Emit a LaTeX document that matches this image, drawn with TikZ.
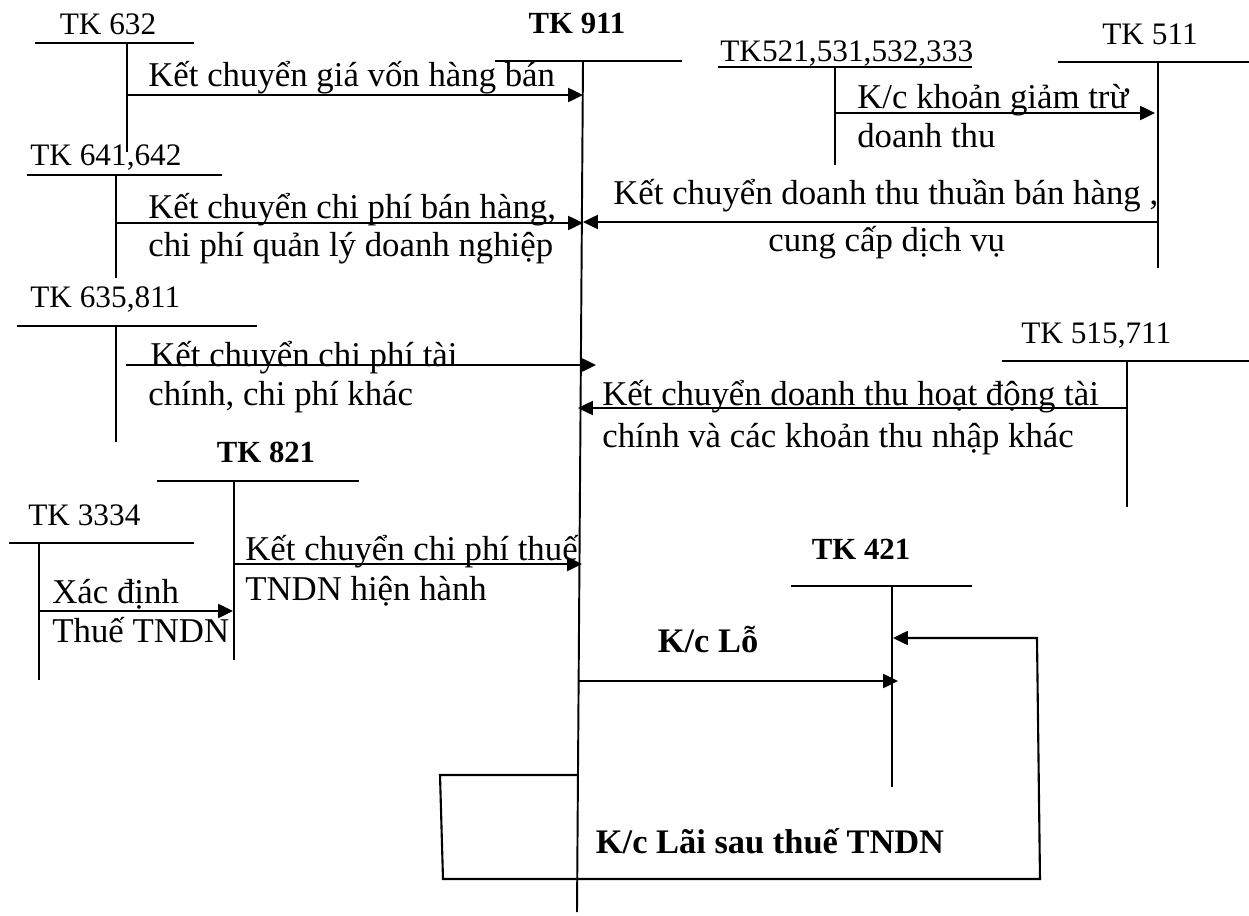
\documentclass[tikz,border=0pt]{standalone}
\usepackage{fontspec}
\setmainfont{Liberation Serif}
\usetikzlibrary{arrows.meta}
\begin{document}
\begin{tikzpicture}[x=0.02cm,y=-0.02cm,
  tline/.style={line width=1.1pt},
  arr/.style={line width=1.2pt,-{Triangle[length=8.5pt,width=8pt]}},
  tk/.style={inner sep=0pt,font=\fontsize{17.8}{20}\selectfont},
  tkb/.style={inner sep=0pt,font=\fontsize{17.5}{20}\selectfont\bfseries},
  body/.style={inner sep=0pt,anchor=base west,font=\fontsize{19.8}{24}\selectfont},
  bigb/.style={inner sep=0pt,anchor=base,font=\fontsize{19.6}{24}\selectfont\bfseries}]
\useasboundingbox (0,0) rectangle (1249,916);
% TK 911
\coordinate (h911l) at (495,61); \coordinate (h911r) at (682,61);
\coordinate (v911t) at (583,61); \coordinate (v911b) at (577,912);
\draw[tline] (h911l) -- (h911r);
\draw[tline] (v911t) -- (v911b);
\node[tkb,anchor=base] (l911) at (577,33) {TK 911};
% TK 632
\coordinate (h632l) at (35,43); \coordinate (h632r) at (194,43);
\coordinate (v632t) at (127,43); \coordinate (v632b) at (127,152);
\draw[tline] (h632l) -- (h632r); \draw[tline] (v632t) -- (v632b);
\node[tk,anchor=base] (l632) at (108,34) {TK 632};
\coordinate (s1) at (127,95); \coordinate (e1) at (583,95);
\draw[arr] (s1) -- (e1);
\node[body] (t1) at (148,86) {Kết chuyển giá vốn hàng bán};
% TK 641,642
\coordinate (h641l) at (27,175); \coordinate (h641r) at (222,175);
\coordinate (v641t) at (116,175); \coordinate (v641b) at (116,278);
\draw[tline] (h641l) -- (h641r); \draw[tline] (v641t) -- (v641b);
\node[tk,anchor=base west] (l641) at (30,165) {TK 641,642};
\coordinate (s2) at (116,223); \coordinate (e2) at (583,223);
\draw[arr] (s2) -- (e2);
\node[body] (t2a) at (148,218) {Kết chuyển chi phí bán hàng,};
\node[body] (t2b) at (148,256) {chi phí quản lý doanh nghiệp};
% TK 511
\coordinate (h511l) at (1058,62); \coordinate (h511r) at (1249,62);
\coordinate (v511t) at (1158,62); \coordinate (v511b) at (1158,268);
\draw[tline] (h511l) -- (h511r); \draw[tline] (v511t) -- (v511b);
\node[tk,anchor=base] (l511) at (1150,45) {TK 511};
\coordinate (s3) at (1158,222); \coordinate (e3) at (583,222);
\draw[arr] (s3) -- (e3);
\node[body] (t3a) at (613,204) {Kết chuyển doanh thu thuần bán hàng ,};
\node[body] (t3b) at (768,251) {cung cấp dịch vụ};
% TK 521...
\coordinate (h521l) at (718,67); \coordinate (h521r) at (972,67);
\coordinate (v521t) at (835,67); \coordinate (v521b) at (835,165);
\draw[tline] (h521l) -- (h521r); \draw[tline] (v521t) -- (v521b);
\node[tk,anchor=base west] (l521) at (720,61) {TK521,531,532,333};
\coordinate (s4) at (835,113); \coordinate (e4) at (1155,113);
\draw[arr] (s4) -- (e4);
\node[body] (t4a) at (857,108) {K/c khoản giảm trừ};
\node[body] (t4b) at (857,147) {doanh thu};
% TK 635,811
\coordinate (h635l) at (17,326); \coordinate (h635r) at (257,326);
\coordinate (v635t) at (116,326); \coordinate (v635b) at (116,442);
\draw[tline] (h635l) -- (h635r); \draw[tline] (v635t) -- (v635b);
\node[tk,anchor=base west] (l635) at (30,307) {TK 635,811};
\coordinate (s5) at (126,365); \coordinate (e5) at (596,365);
\draw[arr] (s5) -- (e5);
\node[body] (t5a) at (150,366) {Kết chuyển chi phí tài};
\node[body] (t5b) at (148,405) {chính, chi phí khác};
% TK 515,711
\coordinate (h515l) at (1002,361); \coordinate (h515r) at (1249,361);
\coordinate (v515t) at (1127,361); \coordinate (v515b) at (1127,507);
\draw[tline] (h515l) -- (h515r); \draw[tline] (v515t) -- (v515b);
\node[tk,anchor=base west] (l515) at (1021,343) {TK 515,711};
\coordinate (s6) at (1127,408); \coordinate (e6) at (578,408);
\draw[arr] (s6) -- (e6);
\node[body] (t6a) at (602,405) {Kết chuyển doanh thu hoạt động tài};
\node[body] (t6b) at (602,447) {chính và các khoản thu nhập khác};
% TK 821
\coordinate (h821l) at (157,481); \coordinate (h821r) at (359,481);
\coordinate (v821t) at (234,481); \coordinate (v821b) at (234,660);
\draw[tline] (h821l) -- (h821r); \draw[tline] (v821t) -- (v821b);
\node[tkb,anchor=base] (l821) at (266,462) {TK 821};
\coordinate (s7) at (234,564); \coordinate (e7) at (582,564);
\draw[arr] (s7) -- (e7);
\node[body] (t7a) at (245,560) {Kết chuyển chi phí thuế};
\node[body] (t7b) at (245,600) {TNDN hiện hành};
% TK 3334
\coordinate (h3334l) at (9,543); \coordinate (h3334r) at (194,543);
\coordinate (v3334t) at (39,543); \coordinate (v3334b) at (39,680);
\draw[tline] (h3334l) -- (h3334r); \draw[tline] (v3334t) -- (v3334b);
\node[tk,anchor=base west] (l3334) at (28,525) {TK 3334};
\coordinate (s8) at (39,611); \coordinate (e8) at (233,611);
\draw[arr] (s8) -- (e8);
\node[body] (t8a) at (52,603) {Xác định};
\node[body] (t8b) at (52,642) {Thuế TNDN};
% TK 421
\coordinate (h421l) at (791,586); \coordinate (h421r) at (972,586);
\coordinate (v421t) at (892,586); \coordinate (v421b) at (892,787);
\draw[tline] (h421l) -- (h421r); \draw[tline] (v421t) -- (v421b);
\node[tkb,anchor=base] (l421) at (861,559) {TK 421};
\coordinate (s9) at (579,681); \coordinate (e9) at (898,681);
\draw[arr] (s9) -- (e9);
\node[bigb] (t9) at (708,652) {K/c Lỗ};
% loop
\coordinate (s10) at (578,775); \coordinate (c1) at (440,775);
\coordinate (c2) at (443,879); \coordinate (c3) at (1040,879);
\coordinate (c4) at (1037,638); \coordinate (e10) at (893,638);
\draw[arr,line join=miter] (s10) -- (c1) -- (c2) -- (c3) -- (c4) -- (e10);
\node[bigb] (t10) at (770,853) {K/c Lãi sau thuế TNDN};
\end{tikzpicture}
\end{document}
